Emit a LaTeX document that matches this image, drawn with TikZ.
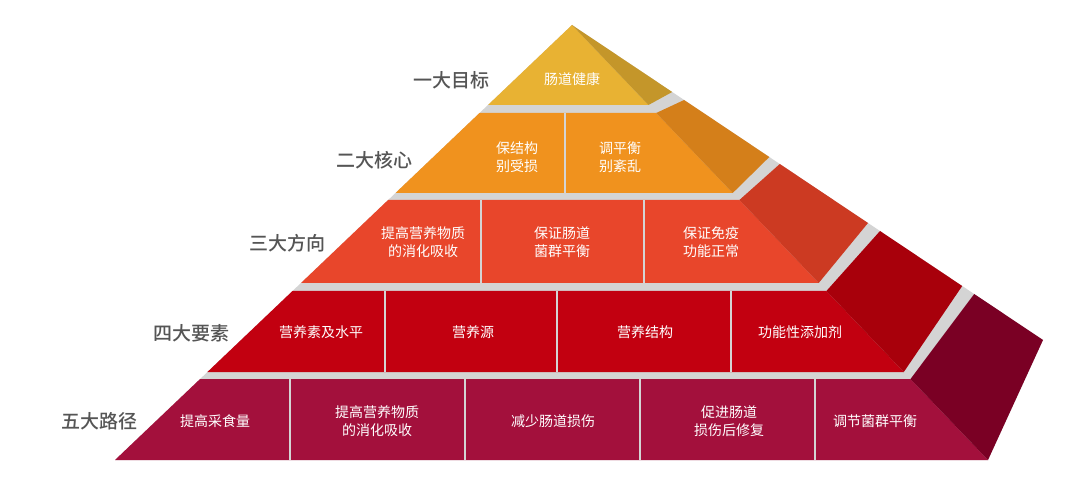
\documentclass[tikz,border=0pt]{standalone}
\usepackage{fontspec}
\setmainfont{Noto Sans CJK SC}
\newfontfamily\cjkb{Noto Sans CJK SC Medium}
\definecolor{gapc}{HTML}{D4D4D4}
\definecolor{fa}{HTML}{E8B233}\definecolor{sa}{HTML}{C4962A}
\definecolor{fb}{HTML}{F0921E}\definecolor{sb}{HTML}{D47F1A}
\definecolor{fc}{HTML}{E8462B}\definecolor{sc}{HTML}{CC3A22}
\definecolor{fd}{HTML}{C20010}\definecolor{sd}{HTML}{A8000B}
\definecolor{fe}{HTML}{A3103C}\definecolor{se}{HTML}{7A0024}
\definecolor{lbl}{HTML}{555555}
\tikzset{cell/.style={text=white,font=\fontsize{14}{18}\selectfont,align=center},
 lab/.style={text=lbl,font=\cjkb\fontsize{19}{22}\selectfont,anchor=east},
 divl/.style={draw=gapc,line width=2.5pt}}
\begin{document}
\begin{tikzpicture}[x=1pt,y=-1pt]
\useasboundingbox (0,0) rectangle (1080,489);
% gray background
\fill[gapc] (572,25) -- (1043,340) -- (988,460) -- (115,460) -- cycle;
% layer 1
\fill[fa] (572,25) -- (648.5,105) -- (488,105) -- cycle;
\fill[sa] (572,25) -- (672.2,92) -- (648.5,105) -- cycle;
% layer 2
\fill[fb] (479.5,113) -- (656.2,113) -- (732.7,193) -- (395.5,193) -- cycle;
\fill[sb] (656.2,113) -- (684.1,100) -- (769.3,157) -- (732.7,193) -- cycle;
% layer 3
\fill[fc] (388.1,200) -- (739.4,200) -- (818.7,283) -- (301,283) -- cycle;
\fill[sc] (739.4,200) -- (779.8,164) -- (868,223) -- (818.7,283) -- cycle;
% layer 4
\fill[fd] (292.5,291) -- (826.4,291) -- (903.8,372) -- (207.4,372) -- cycle;
\fill[sd] (826.4,291) -- (880,231) -- (962.2,286) -- (903.8,372) -- cycle;
% layer 5
\fill[fe] (200.1,379) -- (910.5,379) -- (988,460) -- (115,460) -- cycle;
\fill[se] (910.5,379) -- (974.2,294) -- (1043,340) -- (988,460) -- cycle;
% dividers
\draw[divl] (565,113) -- (565,193);
\foreach \x in {481,644} \draw[divl] (\x,200) -- (\x,283);
\foreach \x in {385,557,731} \draw[divl] (\x,291) -- (\x,372);
\foreach \x in {290,465,640,815} \draw[divl] (\x,379) -- (\x,460);
% cell texts
\node[cell] (a1) at (572,79) {肠道健康};
\node[cell] (b1) at (517,157) {保结构\\别受损};
\node[cell] (b2) at (620,157) {调平衡\\别紊乱};
\node[cell] (c1) at (423,242) {提高营养物质\\的消化吸收};
\node[cell] (c2) at (562,242) {保证肠道\\菌群平衡};
\node[cell] (c3) at (711,242) {保证免疫\\功能正常};
\node[cell] (d1) at (321,332) {营养素及水平};
\node[cell] (d2) at (473,332) {营养源};
\node[cell] (d3) at (645,332) {营养结构};
\node[cell] (d4) at (800,332) {功能性添加剂};
\node[cell] (e1) at (215,421) {提高采食量};
\node[cell] (e2) at (377,421) {提高营养物质\\的消化吸收};
\node[cell] (e3) at (553,421) {减少肠道损伤};
\node[cell] (e4) at (729,421) {促进肠道\\损伤后修复};
\node[cell] (e5) at (875,421) {调节菌群平衡};
% left labels
\node[lab] (l1) at (493,80) {一大目标};
\node[lab] (l2) at (416,160) {二大核心};
\node[lab] (l3) at (329,243) {三大方向};
\node[lab] (l4) at (233,333) {四大要素};
\node[lab] (l5) at (141,421) {五大路径};
\end{tikzpicture}
\end{document}
